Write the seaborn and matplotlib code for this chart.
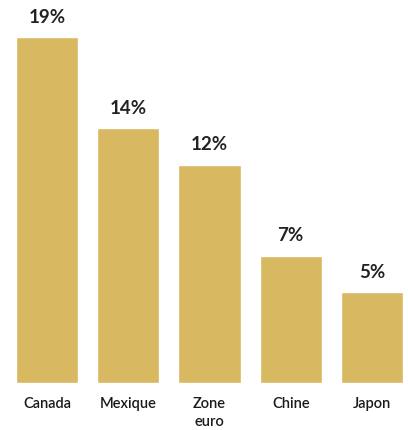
import matplotlib
matplotlib.use("Agg")
import matplotlib.pyplot as plt
import pandas as pd
import seaborn as sns

# data
categories = ["Canada", "Mexique", "Zone\neuro", "Chine", "Japon"]
values = [19, 14, 12, 7, 5]
labels = ["19%", "14%", "12%", "7%", "5%"]

df = pd.DataFrame({"pays": categories, "part": values})

sns.set_style("white")
plt.rcParams["font.family"] = ["Lato", "DejaVu Sans"]

fig = plt.figure(figsize=(4.08, 4.30), dpi=100)
ax = fig.add_axes([0, 0.1093, 1, 0.8907])

sns.barplot(data=df, x="pays", y="part", color="#D8B962", width=0.765,
            saturation=1, ax=ax)

ax.set_xlim(-0.578, 4.443)
ax.set_ylim(0, 21.04)

for c in ax.containers:
    ax.bar_label(c, labels=labels, padding=8, fontsize=13.5,
                 fontweight="bold", color="#222222")

ax.set_xlabel("")
ax.set_ylabel("")
ax.set_yticks([])
ax.tick_params(axis="x", length=0, pad=10, labelsize=10.5, labelcolor="#1a1a1a")
for t in ax.get_xticklabels():
    t.set_fontweight("semibold")
    t.set_verticalalignment("top")
    t.set_linespacing(1.4)
sns.despine(left=True, bottom=True)

fig.savefig("out.png", dpi=100)
